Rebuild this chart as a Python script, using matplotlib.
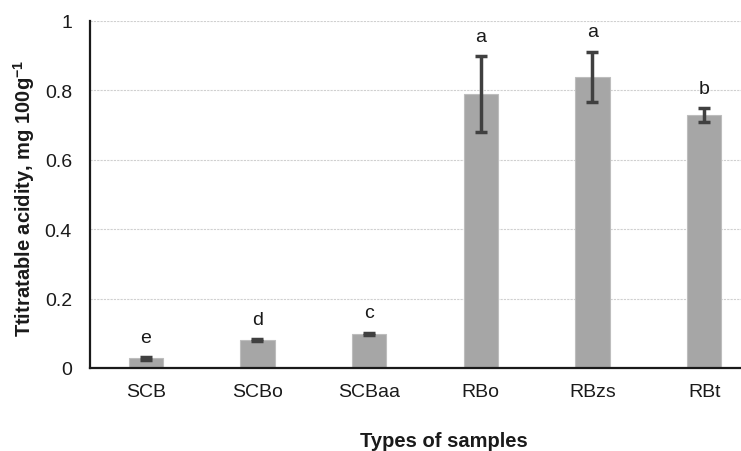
import matplotlib
matplotlib.use("Agg")
import matplotlib.pyplot as plt
import numpy as np

categories = ["SCB", "SCBo", "SCBaa", "RBo", "RBzs", "RBt"]
values = [0.028, 0.080, 0.099, 0.79, 0.84, 0.73]
errors = [0.004, 0.003, 0.003, 0.11, 0.072, 0.02]
letters = ["e", "d", "c", "a", "a", "b"]
yticks = [0, 0.2, 0.4, 0.6, 0.8, 1]
ytick_labels = ["0", "0.2", "0.4", "0.6", "0.8", "1"]

plt.rcParams['font.family'] = ['Liberation Sans', 'DejaVu Sans']
plt.rcParams['mathtext.fontset'] = 'custom'
plt.rcParams['mathtext.rm'] = 'Liberation Sans'
plt.rcParams['mathtext.bf'] = 'Liberation Sans:bold'

fig = plt.figure(figsize=(7.41, 4.52), dpi=100)
ax = fig.add_axes([90/741, (452-369)/452, 670/741, (369-22)/452])

x = np.arange(len(categories))
ax.bar(x, values, width=0.31, color='#a6a6a6', edgecolor='#bdbdbd', linewidth=0.8, zorder=2)
ax.errorbar(x, values, yerr=errors, fmt='none', ecolor='#404040', elinewidth=2.5,
            capsize=4.5, capthick=2.5, zorder=3)
for xi, v, e, l in zip(x, values, errors, letters):
    ax.annotate(l, (xi, v + e), xytext=(0, 8), textcoords='offset points',
                ha='center', va='bottom', fontsize=14, color='#1a1a1a')

ax.set_xlim(-0.5, len(categories) - 0.5)
ax.set_ylim(0, 1)
ax.set_yticks(yticks)
ax.set_yticklabels(ytick_labels)
ax.set_xticks(x)
ax.set_xticklabels(categories)
ax.tick_params(axis='both', length=0, labelsize=14, colors='#1a1a1a')
ax.tick_params(axis='y', pad=13)
ax.tick_params(axis='x', pad=11)
ax.yaxis.grid(True, color='#d0d0d0', linestyle=(0, (2, 1)), linewidth=0.8, zorder=0)
ax.set_axisbelow(True)
for s in ['top', 'right']:
    ax.spines[s].set_visible(False)
ax.spines['left'].set_linewidth(1.6)
ax.spines['bottom'].set_linewidth(1.6)
ax.spines['left'].set_color('#1a1a1a')
ax.spines['bottom'].set_color('#1a1a1a')

fig.text(24/741, 1 - 198/452, r'Ttitratable acidity, mg 100g$^{\mathbf{-1}}$', rotation=90,
         ha='center', va='center', fontsize=14.5, fontweight='bold', color='#1a1a1a')
fig.text(444/741, 1 - 442/452, 'Types of samples', ha='center', va='center',
         fontsize=14.5, fontweight='bold', color='#1a1a1a')

fig.savefig('out.png', dpi=100)
